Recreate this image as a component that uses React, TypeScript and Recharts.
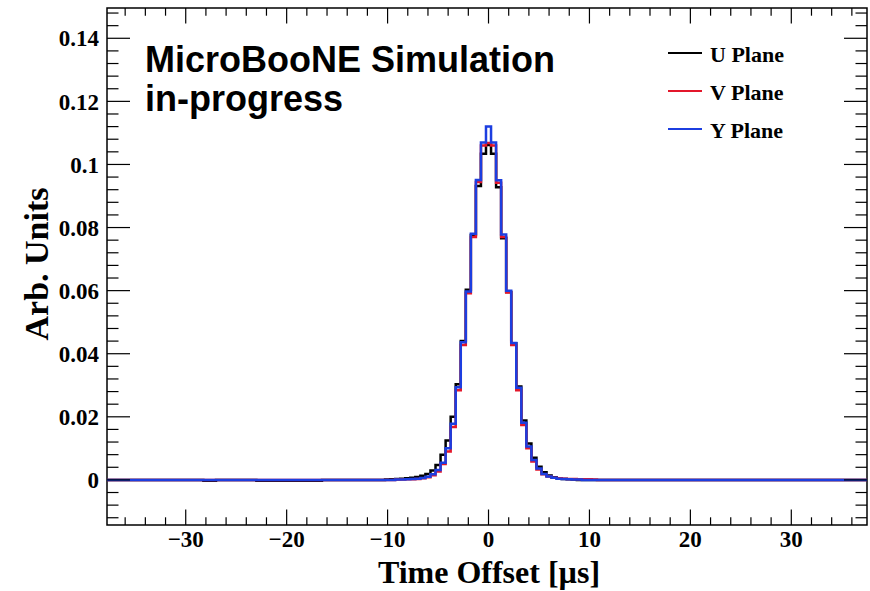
import { Line, LineChart, ReferenceArea, XAxis, YAxis } from 'recharts';

// Axis ranges
const X_MIN = -37.8;
const X_MAX = 37.5;
const Y_MIN = -0.0143;
const Y_MAX = 0.1496;

const X_MAJOR = [-30, -20, -10, 0, 10, 20, 30];
const X_MINOR = [-36, -34, -32, -28, -26, -24, -22, -18, -16, -14, -12, -8, -6, -4, -2, 2, 4, 6, 8, 12, 14, 16, 18, 22, 24, 26, 28, 32, 34, 36];
const Y_MAJOR = [0, 0.02, 0.04, 0.06, 0.08, 0.1, 0.12, 0.14];
const Y_MINOR = [-0.012, -0.008, -0.004, 0.004, 0.008, 0.012, 0.016, 0.024, 0.028, 0.032, 0.036, 0.044, 0.048, 0.052, 0.056, 0.064, 0.068, 0.072, 0.076, 0.084, 0.088, 0.092, 0.096, 0.104, 0.108, 0.112, 0.116, 0.124, 0.128, 0.132, 0.136, 0.144, 0.148];

// 0.5 us bins around the pulse (bin centres)
const binCenters = [-10, -9.5, -9, -8.5, -8, -7.5, -7, -6.5, -6, -5.5, -5, -4.5, -4, -3.5, -3, -2.5, -2, -1.5, -1, -0.5, 0, 0.5, 1, 1.5, 2, 2.5, 3, 3.5, 4, 4.5, 5, 5.5, 6, 6.5, 7, 7.5, 8, 8.5, 9, 9.5, 10, 10.5];

const uPlane = [0.0001, 0.0002, 0.0003, 0.0004, 0.0005, 0.0007, 0.0009, 0.0013, 0.0019, 0.003, 0.0047, 0.008, 0.0125, 0.02, 0.0303, 0.044, 0.0603, 0.0776, 0.0932, 0.1034, 0.1062, 0.1034, 0.0928, 0.0766, 0.0596, 0.0433, 0.0296, 0.0188, 0.0115, 0.007, 0.0042, 0.0024, 0.0014, 0.0008, 0.0005, 0.0003, 0.0002, 0.0001, 0, 0, 0, 0];
const vPlane = [0, 0, 0.0001, 0.0001, 0.0002, 0.0002, 0.0003, 0.0005, 0.0008, 0.0015, 0.0027, 0.005, 0.009, 0.0168, 0.0284, 0.0428, 0.0592, 0.077, 0.0944, 0.106, 0.1068, 0.106, 0.0942, 0.077, 0.0594, 0.0428, 0.0284, 0.0174, 0.01, 0.0058, 0.0033, 0.0018, 0.0011, 0.0007, 0.0005, 0.0004, 0.0003, 0.0003, 0.0002, 0.0002, 0.0002, 0.0001];
const yPlane = [0, 0, 0.0001, 0.0001, 0.0002, 0.0003, 0.0004, 0.0006, 0.001, 0.0018, 0.0031, 0.0054, 0.01, 0.0178, 0.0294, 0.0436, 0.0597, 0.078, 0.0951, 0.107, 0.112, 0.107, 0.095, 0.0778, 0.06, 0.0434, 0.0292, 0.0181, 0.0106, 0.0063, 0.0036, 0.0019, 0.0011, 0.0007, 0.0004, 0.0003, 0.0002, 0.0001, 0.0001, 0, 0, 0];

// small dips of the U plane below zero far from the pulse
const uDipStart = [-28.25, -23];
const uDipEnd = [-27, -16.5];
const uDipValue = -0.0003;

const BIN = 0.5;

// stepAfter needs the low edge of each bin
const coreRows = binCenters.map((c, i) => ({ t: c - BIN / 2, u: uPlane[i], v: vPlane[i], y: yPlane[i] }));
const lastEdge = binCenters[binCenters.length - 1] + BIN / 2;
const rows = [
  { t: X_MIN, u: 0, v: 0, y: 0 },
  ...coreRows,
  { t: lastEdge, u: 0, v: 0, y: 0 },
  { t: X_MAX, u: 0, v: 0, y: 0 },
];
const uRows = [
  { t: X_MIN, u: 0 },
  ...uDipStart.flatMap((s, i) => [{ t: s, u: uDipValue }, { t: uDipEnd[i], u: 0 }]),
  ...coreRows.map((r) => ({ t: r.t, u: r.u })),
  { t: lastEdge, u: 0 },
  { t: X_MAX, u: 0 },
];

const SERIF = '"Liberation Serif", "Times New Roman", serif';
const SANS = '"Liberation Sans", Arial, sans-serif';

const U_COLOR = '#000000';
const V_COLOR = '#e3172b';
const Y_COLOR = '#1c3ee0';

const legendItems = [
  { name: 'U Plane', color: U_COLOR },
  { name: 'V Plane', color: V_COLOR },
  { name: 'Y Plane', color: Y_COLOR },
];

// plot frame (chart margins + axis sizes)
const PLOT_LEFT = 107;
const PLOT_TOP = 8;
const PLOT_RIGHT = 867;
const PLOT_BOTTOM = 525;

const LABEL_FONT = 23;
const fmtX = (v: number) => (v < 0 ? `\u2212${-v}` : `${v}`);

// ROOT-style ticks: pointing inward, mirrored on the opposite side
function XTick(props: any) {
  const { x, y, payload } = props;
  const major = X_MAJOR.includes(payload.value);
  const len = major ? 15.5 : 7.7;
  return (
    <g>
      <line x1={x} x2={x} y1={PLOT_BOTTOM} y2={PLOT_BOTTOM - len} stroke="#000" strokeWidth={1.2} />
      <line x1={x} x2={x} y1={PLOT_TOP} y2={PLOT_TOP + len} stroke="#000" strokeWidth={1.2} />
      {major && (
        <text x={x} y={y} dy="0.71em" textAnchor="middle" fill="#000" fontSize={LABEL_FONT} fontWeight={700} fontFamily={SERIF}>
          {fmtX(payload.value)}
        </text>
      )}
    </g>
  );
}

function YTick(props: any) {
  const { x, y, payload } = props;
  const major = Y_MAJOR.includes(payload.value);
  const len = major ? 23 : 11.5;
  return (
    <g>
      <line x1={PLOT_LEFT} x2={PLOT_LEFT + len} y1={y} y2={y} stroke="#000" strokeWidth={1.2} />
      <line x1={PLOT_RIGHT} x2={PLOT_RIGHT - len} y1={y} y2={y} stroke="#000" strokeWidth={1.2} />
      {major && (
        <text x={x} y={y} dy="0.355em" textAnchor="end" fill="#000" fontSize={LABEL_FONT} fontWeight={700} fontFamily={SERIF}>
          {`${payload.value}`}
        </text>
      )}
    </g>
  );
}

export default function App() {
  return (
    <div style={{ position: 'absolute', left: 0, top: 0, width: 870, height: 591, background: '#fff' }}>
      <LineChart width={870} height={591} data={rows} margin={{ top: PLOT_TOP, right: 870 - PLOT_RIGHT, left: 0, bottom: 0 }}>
        <XAxis xAxisId="x" dataKey="t" type="number" domain={[X_MIN, X_MAX]} allowDataOverflow ticks={[...X_MAJOR, ...X_MINOR]} interval={0} height={591 - PLOT_BOTTOM} tickSize={0} tickMargin={6} tick={<XTick />} tickLine={false} axisLine={false} />
        <YAxis yAxisId="y" type="number" domain={[Y_MIN, Y_MAX]} allowDataOverflow ticks={[...Y_MAJOR, ...Y_MINOR]} interval={0} width={PLOT_LEFT} tickSize={0} tickMargin={8} tick={<YTick />} tickLine={false} axisLine={false} />

        <Line xAxisId="x" yAxisId="y" data={uRows} dataKey="u" type="stepAfter" stroke={U_COLOR} strokeWidth={2.5} dot={false} isAnimationActive={false} />
        <Line xAxisId="x" yAxisId="y" dataKey="v" type="stepAfter" stroke={V_COLOR} strokeWidth={2.5} dot={false} isAnimationActive={false} />
        <Line xAxisId="x" yAxisId="y" dataKey="y" type="stepAfter" stroke={Y_COLOR} strokeWidth={2.5} dot={false} isAnimationActive={false} />

        <ReferenceArea xAxisId="x" yAxisId="y" x1={X_MIN} x2={X_MAX} y1={Y_MIN} y2={Y_MAX} ifOverflow="visible" fill="none" fillOpacity={0} stroke="#000" strokeWidth={1.5} />
      </LineChart>

      <svg width={870} height={591} style={{ position: 'absolute', left: 0, top: 0, pointerEvents: 'none' }}>
        <text x={145} y={72} fontFamily={SANS} fontWeight={700} fontSize={36} fill="#000">MicroBooNE Simulation</text>
        <text x={145} y={111} fontFamily={SANS} fontWeight={700} fontSize={36} fill="#000">in-progress</text>

        {legendItems.map((item, i) => (
          <g key={item.name}>
            <line x1={668} x2={702} y1={53 + i * 38} y2={53 + i * 38} stroke={item.color} strokeWidth={2} />
            <text x={710} y={62 + i * 38} fontFamily={SERIF} fontWeight={700} fontSize={22} fill="#000">{item.name}</text>
          </g>
        ))}

        <text x={489} y={583} textAnchor="middle" fontFamily={SERIF} fontWeight={700} fontSize={32} fill="#000">Time Offset [µs]</text>
        <text x={0} y={0} transform="translate(48 264) rotate(-90)" textAnchor="middle" fontFamily={SERIF} fontWeight={700} fontSize={34} fill="#000">Arb. Units</text>
      </svg>
    </div>
  );
}
